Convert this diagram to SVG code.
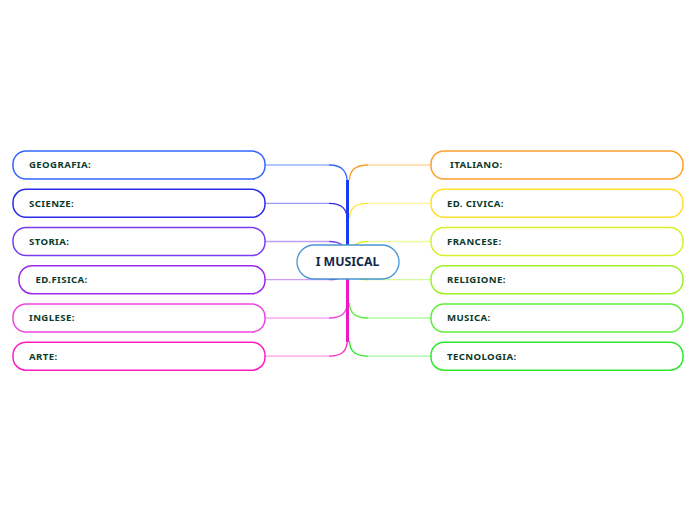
<svg xmlns="http://www.w3.org/2000/svg" width="696" height="520" viewBox="0 0 696 520">
<style>
.box{fill:#fff;stroke-width:1.5}
.lbl{font-family:"Noto Sans","Open Sans",sans-serif;font-weight:bold;font-size:9.6px;fill:#0b3a2c;letter-spacing:0.4px}
.c{fill:none;stroke-width:1.3}
.h{fill:none;stroke-width:1.3}
.trunk{fill:none;stroke-width:3}
</style>
<rect width="696" height="520" fill="#fff"/>
<g id="connectors">
  <path class="c" stroke="#ff9f2a" d="M349.5,180 C349.5,170 355,165 368,165"/><path class="h" stroke="#ffd8a6" d="M368,165 H431"/>
  <path class="c" stroke="#ffe02a" d="M349.5,218 C349.5,208 355,203.3 368,203.3"/><path class="h" stroke="#fff0a0" d="M368,203.3 H431"/>
  <path class="c" stroke="#d8f02a" d="M354,246 C357,242.5 361,241.5 368,241.5"/><path class="h" stroke="#eef8a0" d="M368,241.5 H431"/>
  <path class="c" stroke="#9ef02a" d="M354,277 C357,279 361,279.7 368,279.7"/><path class="h" stroke="#d0f8a0" d="M368,279.7 H431"/>
  <path class="c" stroke="#5cee3a" d="M349.5,303 C349.5,313 355,318 368,318"/><path class="h" stroke="#b0f7a0" d="M368,318 H431"/>
  <path class="c" stroke="#2ee82e" d="M349.5,341 C349.5,351 355,356.2 368,356.2"/><path class="h" stroke="#a0f4a0" d="M368,356.2 H431"/>
  <path class="c" stroke="#3366ff" d="M347.5,185 C347.5,172 343,165 329,165"/><path class="h" stroke="#99b3ff" d="M329,165 H265"/>
  <path class="c" stroke="#2b2be8" d="M347.5,222 C347.5,210 343,203.3 329,203.3"/><path class="h" stroke="#9a9af2" d="M329,203.3 H265"/>
  <path class="c" stroke="#7a3cf0" d="M343,246 C340,242.5 336,241.5 329,241.5"/><path class="h" stroke="#c0a0f6" d="M329,241.5 H265"/>
  <path class="c" stroke="#9b27e8" d="M343,276 C340,279 336,279.7 329,279.7"/><path class="h" stroke="#d09cf3" d="M329,279.7 H265"/>
  <path class="c" stroke="#ef45e0" d="M347.5,300 C347.5,312 343,318 329,318"/><path class="h" stroke="#f7a8f0" d="M329,318 H265"/>
  <path class="c" stroke="#ff1cc0" d="M347.5,338 C347.5,350 343,356.2 329,356.2"/><path class="h" stroke="#ff9ce0" d="M329,356.2 H265"/>
  <path class="trunk" stroke="#1a3cf0" d="M347.5,247 V180"/>
  <path class="trunk" stroke="#ee18c8" d="M347.5,277 V342"/>
</g>
<g id="center">
  <rect x="297" y="245" width="102" height="34" rx="17" fill="#fff" stroke="#4a94d4" stroke-width="1.3"/>
  <text x="347.5" y="266.3" text-anchor="middle" font-family="'Noto Sans','Open Sans',sans-serif" font-weight="bold" font-size="12.3" fill="#14284a">I MUSICAL</text>
</g>
<g id="geografia"><rect class="box" x="13" y="151" width="252" height="28" rx="13" stroke="#3366ff"/><text class="lbl" x="29" y="168.4">GEOGRAFIA:</text></g>
<g id="scienze"><rect class="box" x="13" y="189.3" width="252" height="28" rx="13" stroke="#2b2be8"/><text class="lbl" x="29" y="206.7">SCIENZE:</text></g>
<g id="storia"><rect class="box" x="13" y="227.5" width="252" height="28" rx="13" stroke="#7a3cf0"/><text class="lbl" x="29" y="244.9">STORIA:</text></g>
<g id="edfisica"><rect class="box" x="19" y="265.7" width="246" height="28" rx="13" stroke="#9b27e8"/><text class="lbl" x="35.5" y="283.1" letter-spacing="-0.1">ED.FISICA:</text></g>
<g id="inglese"><rect class="box" x="13" y="304" width="252" height="28" rx="13" stroke="#ef45e0"/><text class="lbl" x="29" y="321.4">INGLESE:</text></g>
<g id="arte"><rect class="box" x="13" y="342.2" width="252" height="28" rx="13" stroke="#ff1cc0"/><text class="lbl" x="29" y="359.6">ARTE:</text></g>
<g id="italiano"><rect class="box" x="431" y="151" width="252" height="28" rx="13" stroke="#ff9f2a"/><text class="lbl" x="450" y="168.4" letter-spacing="-0.1">ITALIANO:</text></g>
<g id="edcivica"><rect class="box" x="431" y="189.3" width="252" height="28" rx="13" stroke="#ffe02a"/><text class="lbl" x="447" y="206.7" letter-spacing="0.1">ED. CIVICA:</text></g>
<g id="francese"><rect class="box" x="431" y="227.5" width="252" height="28" rx="13" stroke="#d8f02a"/><text class="lbl" x="447" y="244.9">FRANCESE:</text></g>
<g id="religione"><rect class="box" x="431" y="265.7" width="252" height="28" rx="13" stroke="#9ef02a"/><text class="lbl" x="447" y="283.1">RELIGIONE:</text></g>
<g id="musica"><rect class="box" x="431" y="304" width="252" height="28" rx="13" stroke="#5cee3a"/><text class="lbl" x="447" y="321.4">MUSICA:</text></g>
<g id="tecnologia"><rect class="box" x="431" y="342.2" width="252" height="28" rx="13" stroke="#2ee82e"/><text class="lbl" x="447" y="359.6">TECNOLOGIA:</text></g>
</svg>
